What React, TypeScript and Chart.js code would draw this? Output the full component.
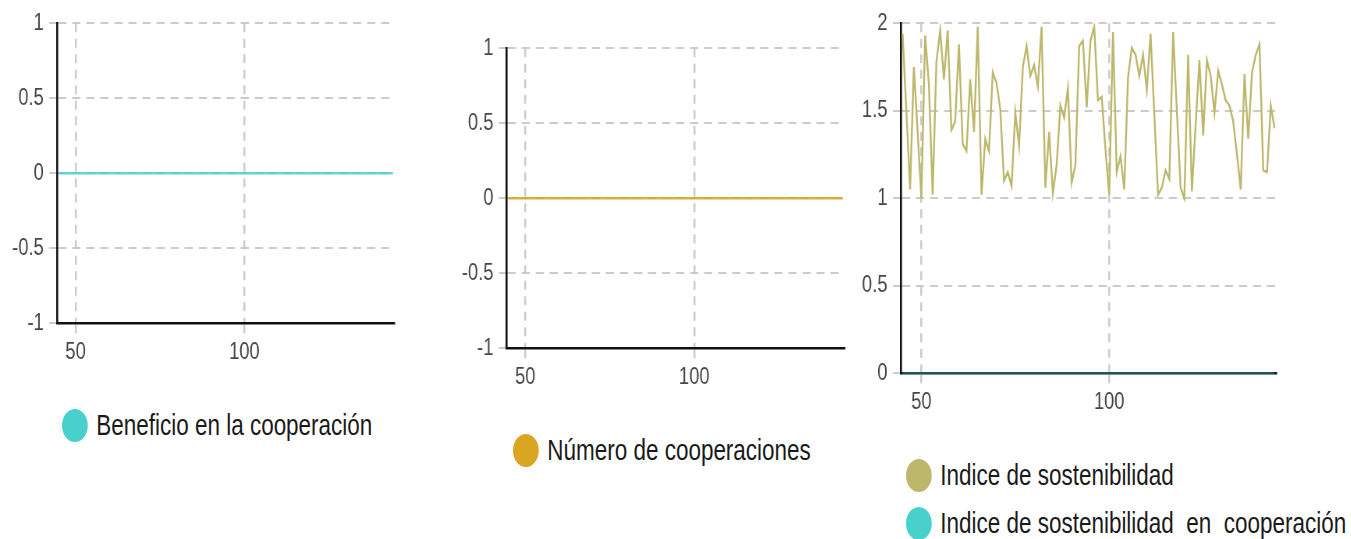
import React, { useEffect, useRef } from "react";
import { Chart, registerables } from "chart.js";

Chart.register(...registerables);

// ---------- data ----------
const steps = [
  45, 46, 47, 48, 49, 50, 51, 52, 53, 54, 55, 56, 57, 58, 59, 60, 61, 62, 63, 64,
  65, 66, 67, 68, 69, 70, 71, 72, 73, 74, 75, 76, 77, 78, 79, 80, 81, 82, 83, 84,
  85, 86, 87, 88, 89, 90, 91, 92, 93, 94, 95, 96, 97, 98, 99, 100, 101, 102, 103, 104,
  105, 106, 107, 108, 109, 110, 111, 112, 113, 114, 115, 116, 117, 118, 119, 120, 121, 122, 123, 124,
  125, 126, 127, 128, 129, 130, 131, 132, 133, 134, 135, 136, 137, 138, 139, 140, 141, 142, 143, 144,
];

const beneficioCooperacion = [
  0, 0, 0, 0, 0, 0, 0, 0, 0, 0, 0, 0, 0, 0, 0, 0, 0, 0, 0, 0,
  0, 0, 0, 0, 0, 0, 0, 0, 0, 0, 0, 0, 0, 0, 0, 0, 0, 0, 0, 0,
  0, 0, 0, 0, 0, 0, 0, 0, 0, 0, 0, 0, 0, 0, 0, 0, 0, 0, 0, 0,
  0, 0, 0, 0, 0, 0, 0, 0, 0, 0, 0, 0, 0, 0, 0, 0, 0, 0, 0, 0,
  0, 0, 0, 0, 0, 0, 0, 0, 0, 0, 0, 0, 0, 0, 0, 0, 0, 0, 0, 0,
];

const numeroCooperaciones = [
  0, 0, 0, 0, 0, 0, 0, 0, 0, 0, 0, 0, 0, 0, 0, 0, 0, 0, 0, 0,
  0, 0, 0, 0, 0, 0, 0, 0, 0, 0, 0, 0, 0, 0, 0, 0, 0, 0, 0, 0,
  0, 0, 0, 0, 0, 0, 0, 0, 0, 0, 0, 0, 0, 0, 0, 0, 0, 0, 0, 0,
  0, 0, 0, 0, 0, 0, 0, 0, 0, 0, 0, 0, 0, 0, 0, 0, 0, 0, 0, 0,
  0, 0, 0, 0, 0, 0, 0, 0, 0, 0, 0, 0, 0, 0, 0, 0, 0, 0, 0, 0,
];

const indiceSostenibilidad = [
  1.94, 1.5, 1.05, 1.75, 1.38, 1.0, 1.93, 1.65, 1.02, 1.78,
  1.96, 1.68, 1.96, 1.39, 1.44, 1.88, 1.31, 1.27, 1.68, 1.38,
  1.98, 1.02, 1.34, 1.27, 1.72, 1.66, 1.51, 1.1, 1.15, 1.07,
  1.49, 1.3, 1.75, 1.87, 1.7, 1.76, 1.64, 1.98, 1.06, 1.38,
  1.03, 1.19, 1.53, 1.46, 1.63, 1.09, 1.19, 1.87, 1.9, 1.52,
  1.9, 1.98, 1.56, 1.58, 1.28, 1.02, 1.95, 1.15, 1.24, 1.05,
  1.69, 1.86, 1.82, 1.7, 1.82, 1.62, 1.94, 1.48, 1.02, 1.06,
  1.16, 1.11, 1.95, 1.5, 1.06, 1.0, 1.82, 1.04, 1.42, 1.79,
  1.36, 1.79, 1.7, 1.49, 1.73, 1.65, 1.56, 1.53, 1.44, 1.25,
  1.05, 1.71, 1.34, 1.72, 1.82, 1.88, 1.16, 1.15, 1.53, 1.4,
];

const indiceSostenibilidadCooperacion = [
  0, 0, 0, 0, 0, 0, 0, 0, 0, 0, 0, 0, 0, 0, 0, 0, 0, 0, 0, 0,
  0, 0, 0, 0, 0, 0, 0, 0, 0, 0, 0, 0, 0, 0, 0, 0, 0, 0, 0, 0,
  0, 0, 0, 0, 0, 0, 0, 0, 0, 0, 0, 0, 0, 0, 0, 0, 0, 0, 0, 0,
  0, 0, 0, 0, 0, 0, 0, 0, 0, 0, 0, 0, 0, 0, 0, 0, 0, 0, 0, 0,
  0, 0, 0, 0, 0, 0, 0, 0, 0, 0, 0, 0, 0, 0, 0, 0, 0, 0, 0, 0,
];

const xTicks = [50, 100];
const xTickLabels = ["50", "100"];
const yTicksSym = [-1, -0.5, 0, 0.5, 1];
const yTickLabelsSym = ["-1", "-0.5", "0", "0.5", "1"];
const yTicksIdx = [0, 0.5, 1, 1.5, 2];
const yTickLabelsIdx = ["0", "0.5", "1", "1.5", "2"];

// ---------- styling ----------
const SQ = 0.78; // horizontal compression of the whole picture
const FONT = "'Liberation Sans', Arial, Helvetica, sans-serif";
const TEAL = "#48D1CC";
const GOLD = "#DAA520";
const KHAKI = "#BDB76B";
const GRID = "rgba(200,200,200,0.95)";
const X_MIN = 44.5;
const X_MAX = 144.4;

type Series = { label: string; values: number[]; color: string; line: string; width: number; clip?: boolean };
type PanelCfg = {
  left: number; width: number; height: number; padTop: number; padRight: number;
  yw: number; xh: number; yMin: number; yMax: number; yTicks: number[]; yLabels: string[];
  series: Series[]; legendLeft: number; legendTop: number; legendGap: number;
};

const panels: PanelCfg[] = [
  {
    left: 0, width: 520, height: 380, padTop: 23.3, padRight: 14.5, yw: 73.1, xh: 56.7,
    yMin: -1, yMax: 1, yTicks: yTicksSym, yLabels: yTickLabelsSym,
    series: [
      { label: "Beneficio en la cooperación", values: beneficioCooperacion, color: TEAL, line: "rgba(72,209,204,0.85)", width: 2.5 },
    ],
    legendLeft: 62, legendTop: 425 - 16.5, legendGap: 15,
  },
  {
    left: 440, width: 530, height: 405, padTop: 48.3, padRight: 11.7, yw: 85.5, xh: 56.7,
    yMin: -1, yMax: 1, yTicks: yTicksSym, yLabels: yTickLabelsSym,
    series: [
      { label: "Número de cooperaciones", values: numeroCooperaciones, color: GOLD, line: "rgba(218,165,32,0.9)", width: 2.5 },
    ],
    legendLeft: 512.7, legendTop: 450 - 16.5, legendGap: 15,
  },
  {
    left: 850, width: 560, height: 430, padTop: 23.3, padRight: 13.8, yw: 65, xh: 56.7,
    yMin: 0, yMax: 2, yTicks: yTicksIdx, yLabels: yTickLabelsIdx,
    series: [
      { label: "Indice de sostenibilidad", values: indiceSostenibilidad, color: KHAKI, line: KHAKI, width: 2.4 },
      { label: "Indice de sostenibilidad  en  cooperación", values: indiceSostenibilidadCooperacion, color: TEAL, line: "rgba(72,209,204,0.35)", width: 2.5, clip: true },
    ],
    legendLeft: 906, legendTop: 475 - 16.5, legendGap: 15,
  },
];

function Panel({ cfg }: { cfg: PanelCfg }) {
  const ref = useRef<HTMLCanvasElement | null>(null);
  useEffect(() => {
    const canvas = ref.current;
    if (!canvas) return;
    const tickFont = { family: FONT, size: 23.5 };
    const chart = new Chart(canvas, {
      type: "line",
      data: {
        datasets: cfg.series.map((s) => ({
          label: s.label,
          data: steps.map((x, i) => ({ x, y: s.values[i] })),
          borderColor: s.line,
          backgroundColor: s.color,
          borderWidth: s.width,
          pointRadius: 0,
          tension: 0,
          fill: false,
          clip: s.clip ? false : undefined,
        })) as any,
      },
      options: {
        responsive: false,
        animation: false,
        devicePixelRatio: 1,
        layout: { padding: { top: cfg.padTop, right: cfg.padRight, left: 0, bottom: 0 } },
        plugins: { legend: { display: false }, tooltip: { enabled: false }, title: { display: false } },
        scales: {
          x: {
            type: "linear",
            min: X_MIN,
            max: X_MAX,
            afterBuildTicks: (s: any) => { s.ticks = xTicks.map((v) => ({ value: v })); },
            afterFit: (s: any) => { s.height = cfg.xh; },
            grid: { color: GRID, lineWidth: 2.5, tickLength: 10, tickColor: GRID },
            border: { display: true, color: "#111", width: 2.5, dash: [9, 6.5] },
            ticks: {
              font: tickFont, color: "#474747", padding: 5, maxRotation: 0, autoSkip: false,
              callback: (_v: any, i: number) => xTickLabels[i],
            },
          },
          y: {
            type: "linear",
            min: cfg.yMin,
            max: cfg.yMax,
            afterBuildTicks: (s: any) => { s.ticks = cfg.yTicks.map((v) => ({ value: v })); },
            afterFit: (s: any) => { s.width = cfg.yw; },
            grid: { color: GRID, lineWidth: 2, tickLength: 10, tickColor: GRID },
            border: { display: true, color: "#111", width: 2.6, dash: [10.5, 7.5] },
            ticks: {
              font: tickFont, color: "#474747", padding: 7, autoSkip: false,
              callback: (_v: any, i: number) => cfg.yLabels[i],
            },
          },
        },
      } as any,
    });
    return () => chart.destroy();
  }, [cfg]);

  return (
    <div
      style={{
        position: "absolute",
        left: cfg.left,
        top: 0,
        width: cfg.width,
        height: cfg.height,
        transform: `scaleX(${SQ})`,
        transformOrigin: "0 0",
      }}
    >
      <canvas ref={ref} width={cfg.width} height={cfg.height} />
    </div>
  );
}

function Legend({ cfg }: { cfg: PanelCfg }) {
  return (
    <div
      style={{
        position: "absolute",
        left: cfg.legendLeft,
        top: cfg.legendTop,
        transform: `scaleX(${SQ})`,
        transformOrigin: "0 0",
        display: "flex",
        flexDirection: "column",
        gap: cfg.legendGap,
      }}
    >
      {cfg.series.map((s) => (
        <div key={s.label} style={{ display: "flex", alignItems: "center", height: 33 }}>
          <span
            style={{
              display: "inline-block",
              width: 33,
              height: 33,
              borderRadius: "50%",
              background: s.color,
              flex: "0 0 auto",
            }}
          />
          <span
            style={{
              marginLeft: 11,
              fontFamily: FONT,
              fontSize: 28.8,
              lineHeight: 1,
              color: "#1a1a1a",
              whiteSpace: "pre",
            }}
          >
            {s.label}
          </span>
        </div>
      ))}
    </div>
  );
}

export default function App() {
  return (
    <div
      style={{
        position: "absolute",
        left: 0,
        top: 0,
        width: 1351,
        height: 539,
        overflow: "hidden",
        background: "#fff",
      }}
    >
      {panels.map((p, i) => (
        <Panel key={"p" + i} cfg={p} />
      ))}
      {panels.map((p, i) => (
        <Legend key={"l" + i} cfg={p} />
      ))}
    </div>
  );
}
